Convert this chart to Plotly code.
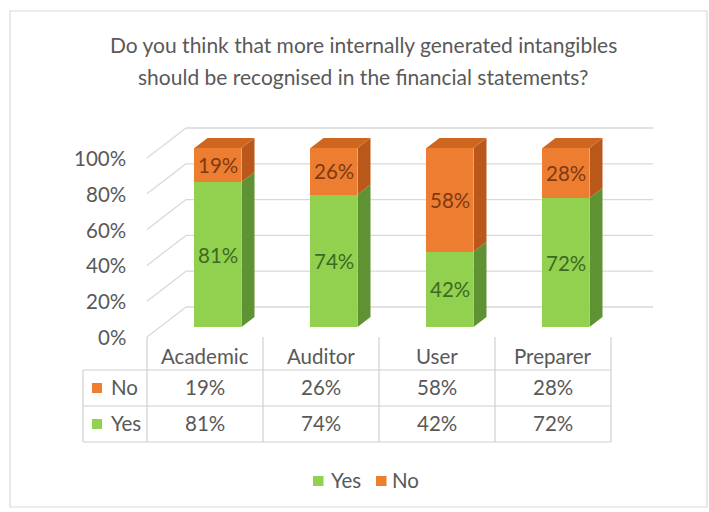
import plotly.graph_objects as go

# ---------------- data ----------------
categories = ["Academic", "Auditor", "User", "Preparer"]
yes_vals = [81, 74, 42, 72]
no_vals = [19, 26, 58, 28]
series_names = ["Yes", "No"]
tick_vals = [0, 20, 40, 60, 80, 100]
tick_text = ["0%", "20%", "40%", "60%", "80%", "100%"]
title_lines = ["Do you think that more internally generated intangibles",
               "should be recognised in the financial statements?"]

# ---------------- style / geometry ----------------
W, H = 709, 512
FONT = "Lato"
FS = 20.5
TXT = "#595959"
GRID = "#d9d9d9"
TABLE_LINE = "#d0d0d0"
GREEN, GREEN_SIDE = "#92D050", "#5F9232"
ORANGE, ORANGE_SIDE, ORANGE_TOP = "#ED7D31", "#B9581A", "#CF661F"
GREEN_LBL, ORANGE_LBL = "#3E6A20", "#7F3A12"
TEXT_DY = 0.0       # visual centring correction for text (px, downward)

PX_CAT = 116.0      # pixels per category
PX_PCT = 1.79       # pixels per percent
X0_PX = 147.0       # pixel of x = -0.5 (front plane)
Y0_PX = 337.0       # pixel of 0% (front plane)
XR = [-0.55, 3.93]
YR = [-3, 124]
DX = 13 / PX_CAT    # depth step in x units
DY = 10 / PX_PCT    # depth step in y units
BW = 47 / PX_CAT    # bar width
X_END = (653 - X0_PX) / PX_CAT - 0.5


def px_x(xv):
    return X0_PX + (xv + 0.5) * PX_CAT


def px_y(v):
    return Y0_PX - v * PX_PCT


dom_x = [px_x(XR[0]) / W, px_x(XR[1]) / W]
dom_y = [1 - px_y(YR[0]) / H, 1 - px_y(YR[1]) / H]


def py(p):  # pixel y -> paper
    return 1 - p / H


def pxp(p):  # pixel x -> paper
    return p / W


fig = go.Figure()

# front faces (bars)
xs_front = [i + DX for i in range(len(categories))]
fig.add_trace(go.Bar(name=series_names[0], x=xs_front, y=yes_vals, base=[DY] * len(yes_vals),
                     width=BW, marker=dict(color=GREEN, line=dict(width=0)),
                     hoverinfo="skip", showlegend=False))
fig.add_trace(go.Bar(name=series_names[1], x=xs_front, y=no_vals,
                     base=[y + DY for y in yes_vals],
                     width=BW, marker=dict(color=ORANGE, line=dict(width=0)),
                     hoverinfo="skip", showlegend=False))

# side and top faces
for i in range(len(categories)):
    xl = i + DX - BW / 2
    xr = i + DX + BW / 2
    segs = [(0, yes_vals[i], GREEN_SIDE),
            (yes_vals[i], yes_vals[i] + no_vals[i], ORANGE_SIDE)]
    for b, t, col in segs:
        fig.add_trace(go.Scatter(
            x=[xr, xr + DX, xr + DX, xr, xr],
            y=[b + DY, b + 2 * DY, t + 2 * DY, t + DY, b + DY],
            fill="toself", fillcolor=col, mode="lines", line=dict(width=0, color=col),
            showlegend=False, hoverinfo="skip"))
    top = yes_vals[i] + no_vals[i]
    fig.add_trace(go.Scatter(
        x=[xl, xl + DX, xr + DX, xr, xl],
        y=[top + DY, top + 2 * DY, top + 2 * DY, top + DY, top + DY],
        fill="toself", fillcolor=ORANGE_TOP, mode="lines",
        line=dict(width=0, color=ORANGE_TOP),
        showlegend=False, hoverinfo="skip"))

annotations = []
# data labels on the bars
for i in range(len(categories)):
    annotations.append(dict(text=f"{yes_vals[i]}%", xref="x", yref="y", x=xs_front[i],
                            y=yes_vals[i] / 2 + DY, yshift=-TEXT_DY, showarrow=False,
                            xanchor="center", yanchor="middle",
                            font=dict(family=FONT, size=FS, color=GREEN_LBL)))
    annotations.append(dict(text=f"{no_vals[i]}%", xref="x", yref="y", x=xs_front[i],
                            y=yes_vals[i] + no_vals[i] / 2 + DY, yshift=-TEXT_DY,
                            showarrow=False, xanchor="center", yanchor="middle",
                            font=dict(family=FONT, size=FS, color=ORANGE_LBL)))

# value axis labels (front plane)
for v, t in zip(tick_vals, tick_text):
    annotations.append(dict(text=t, xref="paper", yref="y", x=pxp(128), y=v,
                            yshift=-TEXT_DY, showarrow=False, xanchor="right",
                            yanchor="middle", font=dict(family=FONT, size=FS, color=TXT)))

shapes = []
# back wall + side wall gridlines
for v in tick_vals:
    shapes.append(dict(type="line", xref="x", yref="y", layer="below",
                       x0=-0.5, y0=v, x1=-0.5 + 3 * DX, y1=v + 3 * DY,
                       line=dict(color=GRID, width=1.3)))
    shapes.append(dict(type="line", xref="x", yref="y", layer="below",
                       x0=-0.5 + 3 * DX, y0=v + 3 * DY, x1=X_END, y1=v + 3 * DY,
                       line=dict(color=GRID, width=1.3)))

# data table
ROW_TOP, ROW_MID, ROW_BOT = 370, 406, 442
TBL_L = 83
for k in range(len(categories) + 1):
    shapes.append(dict(type="line", xref="x", yref="paper",
                       x0=k - 0.5, x1=k - 0.5, y0=py(Y0_PX), y1=py(ROW_BOT),
                       line=dict(color=TABLE_LINE, width=1.2)))
for yy in [ROW_TOP, ROW_MID, ROW_BOT]:
    shapes.append(dict(type="line", xref="paper", yref="paper",
                       x0=pxp(TBL_L), x1=pxp(px_x(len(categories) - 0.5)),
                       y0=py(yy), y1=py(yy),
                       line=dict(color=TABLE_LINE, width=1.2)))
shapes.append(dict(type="line", xref="paper", yref="paper",
                   x0=pxp(TBL_L), x1=pxp(TBL_L), y0=py(ROW_TOP), y1=py(ROW_BOT),
                   line=dict(color=TABLE_LINE, width=1.2)))
row_no = (ROW_TOP + ROW_MID) / 2
row_yes = (ROW_MID + ROW_BOT) / 2
for (yc, col) in [(row_no, ORANGE), (row_yes, GREEN)]:
    shapes.append(dict(type="rect", xref="paper", yref="paper",
                       x0=pxp(92), x1=pxp(102), y0=py(yc - 5), y1=py(yc + 5),
                       fillcolor=col, line=dict(width=0)))

# legend keys
LEG_Y = 481
for x0, col in [(313, GREEN), (376, ORANGE)]:
    shapes.append(dict(type="rect", xref="paper", yref="paper",
                       x0=pxp(x0), x1=pxp(x0 + 10.5), y0=py(LEG_Y - 5), y1=py(LEG_Y + 5),
                       fillcolor=col, line=dict(width=0)))
for xt, name in [(329, series_names[0]), (390, series_names[1])]:
    annotations.append(dict(text=name, xref="paper", yref="paper", x=pxp(xt),
                            y=py(LEG_Y - 1 + TEXT_DY), xanchor="left", yanchor="middle",
                            showarrow=False, font=dict(family=FONT, size=FS, color=TXT)))

# outer chart border
shapes.append(dict(type="rect", xref="paper", yref="paper",
                   x0=pxp(10), x1=pxp(707), y0=py(11), y1=py(507),
                   line=dict(color=GRID, width=1.2), fillcolor="rgba(0,0,0,0)"))

for k, ln in enumerate(title_lines):
    annotations.append(dict(text=ln, xref="paper", yref="paper", x=pxp(363),
                            y=py(44 + 32 * k + TEXT_DY),
                            xanchor="center", yanchor="middle", showarrow=False,
                            font=dict(family=FONT, size=21, color=TXT)))
for i, c in enumerate(categories):
    annotations.append(dict(text=c, xref="x", yref="paper", x=i, y=py(356 + TEXT_DY),
                            xanchor="center", yanchor="middle", showarrow=False,
                            font=dict(family=FONT, size=FS, color=TXT)))
    annotations.append(dict(text=f"{no_vals[i]}%", xref="x", yref="paper", x=i,
                            y=py(row_no - 1 + TEXT_DY), xanchor="center", yanchor="middle",
                            showarrow=False, font=dict(family=FONT, size=FS, color=TXT)))
    annotations.append(dict(text=f"{yes_vals[i]}%", xref="x", yref="paper", x=i,
                            y=py(row_yes - 1 + TEXT_DY), xanchor="center", yanchor="middle",
                            showarrow=False, font=dict(family=FONT, size=FS, color=TXT)))
for name, yc in [(series_names[1], row_no), (series_names[0], row_yes)]:
    annotations.append(dict(text=name, xref="paper", yref="paper", x=pxp(109),
                            y=py(yc - 1 + TEXT_DY), xanchor="left", yanchor="middle",
                            showarrow=False, font=dict(family=FONT, size=FS, color=TXT)))

fig.update_layout(
    width=W, height=H, margin=dict(l=0, r=0, t=0, b=0),
    paper_bgcolor="white", plot_bgcolor="rgba(0,0,0,0)",
    barmode="overlay", bargap=0,
    shapes=shapes, annotations=annotations,
    showlegend=False,
    xaxis=dict(domain=dom_x, range=XR, visible=False, fixedrange=True),
    yaxis=dict(domain=dom_y, range=YR, visible=False, fixedrange=True),
)

fig.write_html("out.html", config={"displayModeBar": False},
               post_script="document.body.style.margin='0px';")
